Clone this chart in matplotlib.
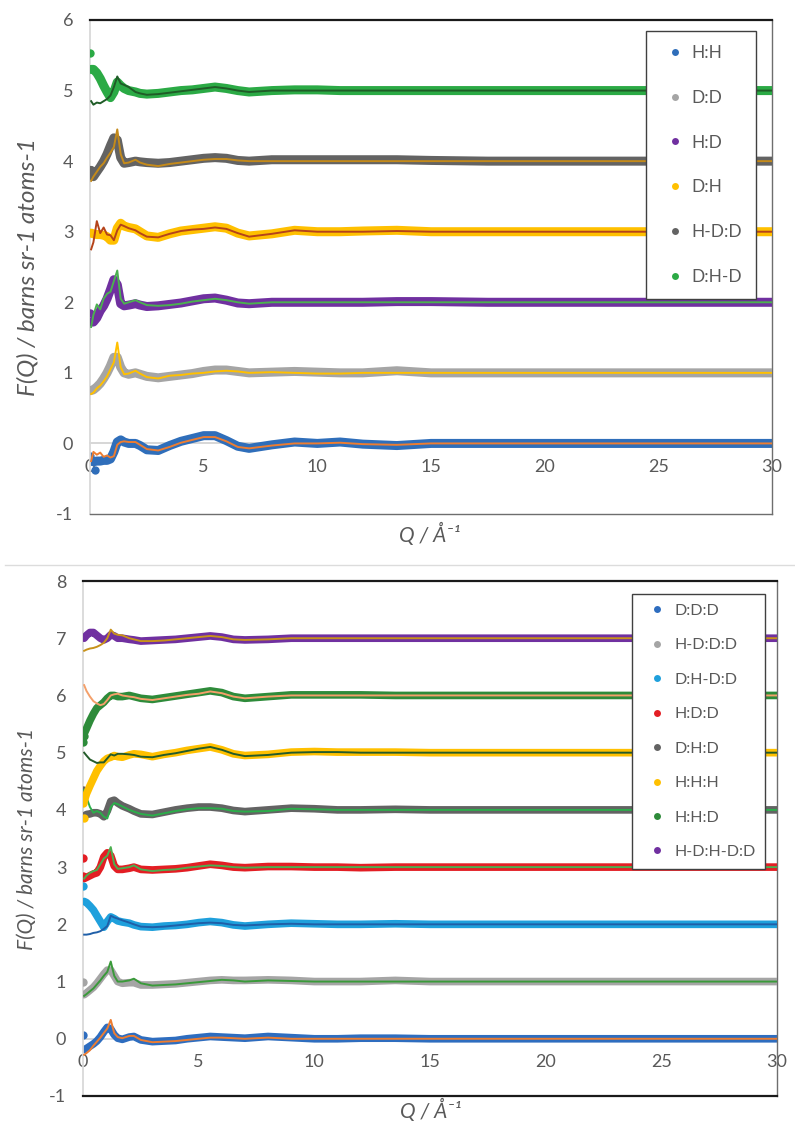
import matplotlib
matplotlib.use("Agg")
import matplotlib.pyplot as plt
from matplotlib.lines import Line2D

plt.rcParams['font.family'] = ['Lato', 'DejaVu Sans']

# Momentum transfer grid (1/Angstrom) on which every curve is tabulated
Q = [0.05, 0.15, 0.3, 0.45, 0.6, 0.75, 0.9, 1.05, 1.2, 1.35, 1.5, 1.7, 2.0, 2.2, 2.5,
     3.0, 3.5, 4.0, 4.5, 5.0, 5.5, 6.0, 6.5, 7.0, 8.0, 9.0, 10, 11, 12, 13.5, 15,
     17.5, 20, 22.5, 25, 27.5, 30]

# ---------------- upper panel: measured F(Q) (offset) ----------------
TOP_LABELS = ['H:H', 'D:D', 'H:D', 'D:H', 'H-D:D', 'D:H-D']

HH = [-0.25, -0.26, -0.25, -0.25, -0.24, -0.24, -0.22, -0.12, 0.02, 0.05, 0.02, 0.0, 0.0, -0.03, -0.09,
      -0.10, -0.03, 0.03, 0.07, 0.11, 0.11, 0.04, -0.04, -0.07, -0.02, 0.02, 0.0, 0.02, -0.01, -0.03, 0.0,
      0.0, 0.0, 0.0, 0.0, 0.0, 0.0]
DD = [0.75, 0.76, 0.80, 0.85, 0.92, 1.0, 1.10, 1.22, 1.22, 1.08, 1.0, 0.98, 1.0, 0.98, 0.95,
      0.93, 0.95, 0.97, 0.99, 1.02, 1.04, 1.04, 1.02, 1.0, 1.01, 1.02, 1.01, 1.0, 1.0, 1.03, 1.0,
      1.0, 1.0, 1.0, 1.0, 1.0, 1.0]
HD = [1.72, 1.72, 1.78, 1.88, 1.95, 2.05, 2.18, 2.32, 2.25, 1.98, 1.95, 1.96, 1.98, 1.96, 1.94,
      1.95, 1.97, 1.99, 2.02, 2.05, 2.06, 2.03, 1.99, 1.98, 2.0, 2.0, 2.0, 2.0, 2.0, 2.01, 2.01,
      2.0, 2.0, 2.0, 2.0, 2.0, 2.0]
DH = [2.98, 2.97, 2.96, 2.96, 2.95, 2.93, 2.88, 2.88, 3.05, 3.12, 3.08, 3.06, 3.04, 3.0, 2.94,
      2.92, 2.97, 3.01, 3.03, 3.05, 3.07, 3.05, 2.98, 2.94, 2.97, 3.02, 3.0, 3.0, 3.01, 3.02, 3.0,
      3.0, 3.0, 3.0, 3.0, 3.0, 3.0]
HD_DD = [3.87, 3.78, 3.85, 3.92, 4.0, 4.10, 4.22, 4.33, 4.30, 4.05, 3.97, 3.98, 4.0, 3.99, 3.98,
         3.97, 3.98, 4.0, 4.02, 4.04, 4.05, 4.04, 4.01, 4.0, 4.02, 4.02, 4.02, 4.02, 4.02, 4.02, 4.01,
         4.0, 4.0, 4.0, 4.0, 4.0, 4.0]
DH_HD = [5.30, 5.30, 5.25, 5.17, 5.07, 4.98, 4.90, 4.98, 5.12, 5.07, 5.03, 5.0, 4.98, 4.96, 4.95,
         4.96, 4.98, 5.0, 5.01, 5.03, 5.05, 5.03, 5.0, 4.98, 5.0, 5.01, 5.01, 5.0, 5.0, 5.0, 5.0,
         5.0, 5.0, 5.0, 5.0, 5.0, 5.0]

# ---------------- upper panel: model curves ----------------
HH_FIT = [-0.25, -0.12, -0.16, -0.13, -0.19, -0.17, -0.20, -0.18, -0.02, 0.02, 0.03, 0.02, 0.02, -0.02, -0.08,
          -0.10, -0.05, 0.01, 0.05, 0.09, 0.09, 0.03, -0.05, -0.07, -0.03, 0.0, 0.0, 0.01, -0.01, -0.02, 0.0,
          0.0, 0.0, 0.0, 0.0, 0.0, 0.0]
DD_FIT = [0.70, 0.72, 0.78, 0.82, 0.88, 0.95, 1.05, 1.15, 1.43, 1.08, 0.98, 0.99, 1.03, 0.99, 0.94,
          0.92, 0.96, 0.97, 0.99, 1.0, 1.02, 1.03, 1.02, 1.0, 1.01, 1.0, 0.99, 0.99, 1.0, 1.0, 1.0,
          1.0, 1.0, 1.0, 1.0, 1.0, 1.0]
HD_FIT = [1.65, 1.82, 1.97, 1.90, 2.05, 2.12, 2.15, 2.30, 2.45, 2.05, 1.98, 2.0, 2.03, 2.0, 1.96,
          1.95, 1.96, 1.98, 2.01, 2.03, 2.05, 2.03, 2.0, 1.98, 2.0, 2.0, 2.0, 2.0, 2.0, 2.0, 2.0,
          2.0, 2.0, 2.0, 2.0, 2.0, 2.0]
DH_FIT = [2.75, 2.85, 3.15, 2.98, 3.06, 2.96, 2.95, 2.88, 3.02, 3.10, 3.08, 3.05, 3.02, 2.98, 2.93,
          2.92, 2.97, 3.01, 3.03, 3.04, 3.06, 3.04, 2.98, 2.93, 2.97, 3.02, 3.0, 3.0, 3.0, 3.01, 3.0,
          3.0, 3.0, 3.0, 3.0, 3.0, 3.0]
HD_DD_FIT = [3.72, 3.78, 3.85, 3.92, 3.97, 4.05, 4.12, 4.20, 4.45, 4.10, 3.97, 3.98, 4.02, 3.98, 3.95,
             3.93, 3.96, 3.98, 4.0, 4.02, 4.03, 4.03, 4.01, 4.0, 4.0, 4.0, 4.0, 4.0, 4.0, 4.0, 4.0,
             4.0, 4.0, 4.0, 4.0, 4.0, 4.0]
DH_HD_FIT = [4.85, 4.80, 4.83, 4.82, 4.85, 4.88, 4.93, 5.05, 5.20, 5.10, 5.08, 5.05, 4.98, 4.96, 4.94,
             4.95, 4.97, 4.99, 5.01, 5.03, 5.05, 5.03, 5.0, 4.98, 5.0, 5.0, 5.0, 5.0, 5.0, 5.0, 5.0,
             5.0, 5.0, 5.0, 5.0, 5.0, 5.0]

# isolated lowest-Q points of the upper panel (Q, F)
TOP_STRAY_Q = [[0.02, 0.2], [], [0.02], [], [], [0.02]]
TOP_STRAY_F = [[-0.18, -0.37], [], [1.85], [], [], [5.53]]

# ---------------- lower panel: measured F(Q) (offset) ----------------
BOT_LABELS = ['D:D:D', 'H-D:D:D', 'D:H-D:D', 'H:D:D', 'D:H:D', 'H:H:H', 'H:H:D', 'H-D:H-D:D']

DDD = [-0.19, -0.17, -0.13, -0.09, -0.04, 0.03, 0.12, 0.20, 0.17, 0.07, 0.01, -0.01, 0.03, 0.04, -0.02,
       -0.05, -0.04, -0.03, 0.0, 0.02, 0.04, 0.03, 0.02, 0.01, 0.04, 0.02, 0.0, 0.0, 0.01, 0.01, 0.0,
       0.0, 0.0, 0.0, 0.0, 0.0, 0.0]
HD_DDD = [0.77, 0.80, 0.85, 0.90, 0.97, 1.05, 1.13, 1.20, 1.20, 1.10, 1.0, 0.97, 0.98, 0.98, 0.94,
          0.94, 0.95, 0.96, 0.98, 1.0, 1.02, 1.03, 1.02, 1.02, 1.03, 1.02, 1.0, 1.0, 1.0, 1.02, 1.0,
          1.0, 1.0, 1.0, 1.0, 1.0, 1.0]
DH_DDD = [2.40, 2.38, 2.32, 2.25, 2.15, 2.05, 1.95, 2.05, 2.13, 2.10, 2.06, 2.04, 2.02, 1.99, 1.96,
          1.95, 1.97, 1.98, 2.0, 2.03, 2.05, 2.03, 1.99, 1.97, 2.0, 2.02, 2.01, 2.0, 2.0, 2.01, 2.0,
          2.0, 2.0, 2.0, 2.0, 2.0, 2.0]
HDD = [2.80, 2.82, 2.85, 2.88, 2.90, 3.0, 3.18, 3.25, 3.20, 3.02, 2.96, 2.96, 2.98, 3.0, 2.96,
       2.95, 2.96, 2.97, 2.99, 3.02, 3.05, 3.03, 3.0, 2.99, 3.01, 3.01, 3.0, 3.0, 2.99, 3.0, 3.0,
       3.0, 3.0, 3.0, 3.0, 3.0, 3.0]
DHD = [3.89, 3.92, 3.93, 3.95, 3.95, 3.93, 3.88, 3.98, 4.15, 4.17, 4.12, 4.07, 4.02, 3.98, 3.93,
       3.92, 3.96, 4.0, 4.03, 4.05, 4.05, 4.03, 3.99, 3.97, 4.0, 4.03, 4.02, 4.0, 4.0, 4.01, 4.0,
       4.0, 4.0, 4.0, 4.0, 4.0, 4.0]
HHH = [4.15, 4.28, 4.42, 4.55, 4.68, 4.77, 4.85, 4.90, 4.92, 4.95, 4.93, 4.92, 4.96, 4.98, 4.97,
       4.93, 4.97, 5.0, 5.04, 5.07, 5.10, 5.05, 4.98, 4.95, 4.97, 5.01, 5.02, 5.01, 5.01, 5.01, 5.0,
       5.0, 5.0, 5.0, 5.0, 5.0, 5.0]
HHD = [5.33, 5.42, 5.56, 5.68, 5.78, 5.83, 5.88, 5.95, 6.0, 6.0, 5.98, 5.98, 6.0, 5.98, 5.95,
       5.93, 5.96, 5.99, 6.02, 6.05, 6.08, 6.05, 5.98, 5.95, 5.98, 6.01, 6.01, 6.01, 6.01, 6.0, 6.0,
       6.0, 6.0, 6.0, 6.0, 6.0, 6.0]
HD_HDD = [7.0, 7.05, 7.10, 7.10, 7.05, 7.0, 6.97, 7.0, 7.06, 7.04, 7.0, 7.0, 6.98, 6.97, 6.95,
          6.96, 6.97, 6.98, 7.0, 7.02, 7.04, 7.02, 6.98, 6.97, 6.98, 7.0, 7.0, 7.0, 7.0, 7.0, 7.0,
          7.0, 7.0, 7.0, 7.0, 7.0, 7.0]

# ---------------- lower panel: model curves ----------------
DDD_FIT = [-0.28, -0.25, -0.20, -0.12, -0.05, 0.02, 0.10, 0.18, 0.33, 0.10, 0.03, 0.01, 0.05, 0.05, -0.02,
           -0.06, -0.05, -0.04, -0.02, 0.0, 0.02, 0.02, 0.01, 0.0, 0.02, 0.0, 0.0, 0.0, 0.0, 0.0, 0.0,
           0.0, 0.0, 0.0, 0.0, 0.0, 0.0]
HD_DDD_FIT = [0.75, 0.78, 0.83, 0.88, 0.95, 1.02, 1.10, 1.17, 1.35, 1.10, 1.0, 1.0, 1.02, 1.05, 0.97,
              0.93, 0.94, 0.95, 0.97, 0.99, 1.01, 1.03, 1.02, 1.0, 1.02, 1.01, 1.0, 1.0, 1.0, 1.0, 1.0,
              1.0, 1.0, 1.0, 1.0, 1.0, 1.0]
DH_DDD_FIT = [1.82, 1.82, 1.83, 1.85, 1.86, 1.88, 1.92, 1.97, 2.15, 2.12, 2.10, 2.07, 2.03, 2.0, 1.96,
              1.95, 1.96, 1.98, 2.0, 2.02, 2.03, 2.02, 1.99, 1.98, 2.0, 2.01, 2.0, 2.0, 2.0, 2.0, 2.0,
              2.0, 2.0, 2.0, 2.0, 2.0, 2.0]
HDD_FIT = [2.80, 2.85, 2.90, 2.93, 2.95, 3.05, 3.15, 3.20, 3.35, 3.05, 2.97, 2.98, 3.0, 3.03, 2.96,
           2.93, 2.95, 2.96, 2.99, 3.01, 3.03, 3.02, 3.0, 2.99, 3.0, 3.0, 3.0, 3.0, 3.0, 3.0, 3.0,
           3.0, 3.0, 3.0, 3.0, 3.0, 3.0]
DHD_FIT = [4.35, 4.22, 4.05, 3.95, 3.98, 3.95, 3.88, 3.85, 4.05, 4.12, 4.10, 4.06, 4.0, 3.97, 3.93,
           3.90, 3.94, 3.98, 4.01, 4.03, 4.03, 4.02, 3.98, 3.97, 3.98, 4.02, 4.01, 4.0, 4.0, 4.0, 4.0,
           4.0, 4.0, 4.0, 4.0, 4.0, 4.0]
HHH_FIT = [5.0, 4.95, 4.88, 4.85, 4.82, 4.83, 4.83, 4.90, 4.97, 4.95, 4.98, 4.98, 4.97, 4.96, 4.93,
           4.92, 4.96, 4.99, 5.03, 5.07, 5.10, 5.05, 4.98, 4.94, 4.96, 5.0, 5.01, 5.01, 5.0, 5.0, 5.0,
           5.0, 5.0, 5.0, 5.0, 5.0, 5.0]
HHD_FIT = [6.18, 6.08, 5.98, 5.90, 5.86, 5.83, 5.85, 5.92, 6.0, 6.02, 6.03, 6.0, 5.98, 5.97, 5.94,
           5.92, 5.95, 5.98, 6.01, 6.03, 6.07, 6.04, 5.98, 5.95, 5.98, 6.0, 6.0, 6.0, 6.0, 6.0, 6.0,
           6.0, 6.0, 6.0, 6.0, 6.0, 6.0]
HD_HDD_FIT = [6.78, 6.80, 6.82, 6.83, 6.85, 6.88, 6.92, 7.0, 7.15, 7.08, 7.06, 7.05, 7.0, 6.98, 6.95,
              6.95, 6.96, 6.98, 7.0, 7.02, 7.04, 7.02, 6.98, 6.97, 6.98, 7.0, 7.0, 7.0, 7.0, 7.0, 7.0,
              7.0, 7.0, 7.0, 7.0, 7.0, 7.0]

BOT_STRAY_Q = [[0.02], [0.02], [0.02], [0.02, 0.02], [0.02], [0.02, 0.05], [0.02, 0.03], []]
BOT_STRAY_F = [[0.07], [1.0], [2.67], [3.16, 2.84], [4.34], [4.12, 3.86], [5.18, 5.30], []]

X_TICKS = [0, 5, 10, 15, 20, 25, 30]
TOP_Y_TICKS = [-1, 0, 1, 2, 3, 4, 5, 6]
BOT_Y_TICKS = [-1, 0, 1, 2, 3, 4, 5, 6, 7, 8]

TOP_DATA = [HH, DD, HD, DH, HD_DD, DH_HD]
TOP_FITS = [HH_FIT, DD_FIT, HD_FIT, DH_FIT, HD_DD_FIT, DH_HD_FIT]
TOP_COLORS = ['#2F6EBA', '#A5A5A5', '#7030A0', '#FFC000', '#636363', '#2BAA45']
TOP_FIT_COLORS = ['#ED7D31', '#FFC000', '#4CB050', '#B5431A', '#C48A1A', '#1F5C27']

BOT_DATA = [DDD, HD_DDD, DH_DDD, HDD, DHD, HHH, HHD, HD_HDD]
BOT_FITS = [DDD_FIT, HD_DDD_FIT, DH_DDD_FIT, HDD_FIT, DHD_FIT, HHH_FIT, HHD_FIT, HD_HDD_FIT]
BOT_COLORS = ['#2E6DBF', '#A5A5A5', '#1FA0DC', '#E31E24', '#636363', '#FFC000', '#2E8B3A', '#7030A0']
BOT_FIT_COLORS = ['#ED7D31', '#3A9A3A', '#1F5FA8', '#4CAF50', '#2BAE4A', '#245B2A', '#F4A06A', '#C8921A']

TEXT_COLOR = '#595959'


def draw_panel(ax, data, fits, strays_q, strays_f, colors, fit_colors, labels,
               yticks, band_lw, legend_kw, legend_fs, ylabel_fs):
    for k, (d, f) in enumerate(zip(data, fits)):
        ax.plot(Q, d, color=colors[k], lw=band_lw, solid_capstyle='round',
                solid_joinstyle='round', zorder=2 + 2 * k)
        if strays_q[k]:
            ax.plot(strays_q[k], strays_f[k], 'o', color=colors[k], ms=6,
                    mec='none', zorder=2 + 2 * k)
        ax.plot(Q, f, color=fit_colors[k], lw=1.4, zorder=3 + 2 * k)

    ax.set_xlim(0, 30)
    ax.set_ylim(yticks[0], yticks[-1])
    ax.set_yticks(yticks)
    ax.set_yticklabels([str(t) for t in yticks])
    ax.tick_params(axis='y', length=0, pad=12, labelsize=13, labelcolor=TEXT_COLOR)
    ax.set_xticks([])

    ax.spines['top'].set_color('#1A1A1A')
    ax.spines['top'].set_linewidth(1.6)
    ax.spines['right'].set_color('#6E6E6E')
    ax.spines['right'].set_linewidth(1.0)
    ax.spines['left'].set_color('#D9D9D9')
    ax.spines['left'].set_linewidth(1.3)

    # horizontal axis crossing at F(Q) = 0
    zero_frac = (0 - yticks[0]) / (yticks[-1] - yticks[0])
    sec = ax.secondary_xaxis(zero_frac)
    sec.set_xticks(X_TICKS)
    sec.set_xticklabels([str(t) for t in X_TICKS])
    sec.tick_params(length=0, pad=11, labelsize=13, labelcolor=TEXT_COLOR)
    sec.spines['bottom'].set_color('#D0D0D0')
    sec.spines['bottom'].set_linewidth(1.2)

    handles = [Line2D([], [], marker='o', ls='none', color=c, ms=5, mec='none')
               for c in colors]
    leg = ax.legend(handles, labels, fontsize=legend_fs, frameon=True, fancybox=False,
                    edgecolor='#404040', framealpha=1, borderaxespad=0, **legend_kw)
    leg.get_frame().set_linewidth(1.0)
    for t in leg.get_texts():
        t.set_color(TEXT_COLOR)
    leg.set_zorder(30)

    ax.set_ylabel('F(Q) / barns sr-1 atoms-1', fontsize=ylabel_fs, style='italic',
                  color=TEXT_COLOR)
    ax.set_xlabel('Q / Å⁻¹', fontsize=15, style='italic', color=TEXT_COLOR)
    ax.xaxis.label.set_va('center')


fig = plt.figure(figsize=(7.95, 11.25), dpi=100)
W, H = 795, 1125

ax1 = fig.add_axes([90 / W, 1 - 514 / H, (772 - 90) / W, (514 - 20) / H])
draw_panel(ax1, TOP_DATA, TOP_FITS, TOP_STRAY_Q, TOP_STRAY_F, TOP_COLORS, TOP_FIT_COLORS,
           TOP_LABELS, TOP_Y_TICKS, 6.5,
           dict(loc='upper right', bbox_to_anchor=((756 - 90) / 682, (514 - 31) / 494),
                labelspacing=1.66, borderpad=0.8, handlelength=1.7, handletextpad=0.1),
           12.5, 17.5)
ax1.spines['bottom'].set_color('#6E6E6E')
ax1.spines['bottom'].set_linewidth(1.0)
ax1.yaxis.set_label_coords(-0.076, 0.5)
ax1.xaxis.set_label_coords((430 - 90) / 682, -(534 - 514) / 494)

ax2 = fig.add_axes([83 / W, 1 - 1096 / H, (777 - 83) / W, (1096 - 581) / H])
draw_panel(ax2, BOT_DATA, BOT_FITS, BOT_STRAY_Q, BOT_STRAY_F, BOT_COLORS, BOT_FIT_COLORS,
           BOT_LABELS, BOT_Y_TICKS, 5.5,
           dict(loc='upper right', bbox_to_anchor=((765 - 83) / 694, (1096 - 594) / 515),
                labelspacing=1.27, borderpad=0.6, handlelength=2.0, handletextpad=0.05),
           11.5, 15)
ax2.spines['bottom'].set_color('#1A1A1A')
ax2.spines['bottom'].set_linewidth(1.6)
ax2.yaxis.set_label_coords(-0.066, 0.5)
ax2.xaxis.set_label_coords((431 - 83) / 694, -(1110 - 1096) / 515)

# thin rule between the two panels
fig.add_artist(Line2D([5 / W, 1.0], [1 - 565 / H, 1 - 565 / H], color='#DCDCDC', lw=1.0))

fig.savefig('out.png', dpi=100, facecolor='white')
